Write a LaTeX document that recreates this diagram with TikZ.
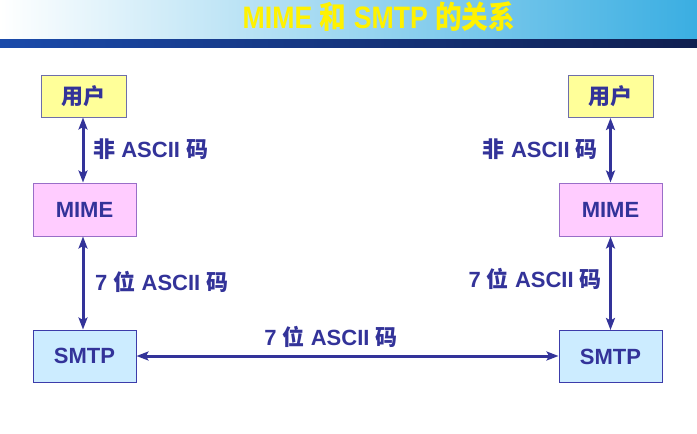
\documentclass[tikz,border=0pt]{standalone}
\usepackage{fontspec}
\setmainfont{Liberation Sans}
\newfontfamily\cjk{Noto Sans CJK SC}
\usetikzlibrary{arrows.meta}
\definecolor{ink}{RGB}{51,51,153}
\definecolor{hdr}{RGB}{58,174,226}
\definecolor{barL}{RGB}{26,74,170}
\definecolor{barR}{RGB}{16,31,80}
\definecolor{userfill}{RGB}{255,255,153}
\definecolor{mimefill}{RGB}{255,204,255}
\definecolor{smtpfill}{RGB}{204,236,255}
\definecolor{userline}{RGB}{110,110,170}
\definecolor{mimeline}{RGB}{153,110,200}
\definecolor{smtpline}{RGB}{60,60,170}
\newcommand\zh[1]{{\cjk\bfseries #1}}
\tikzset{
  box/.style={draw, line width=1pt, minimum width=#1, inner sep=0pt, font=\fontsize{22}{25}\selectfont\bfseries, text=ink},
  userbox/.style={box=85pt, minimum height=42pt, fill=userfill, draw=userline},
  mimebox/.style={box=103pt, minimum height=53pt, fill=mimefill, draw=mimeline},
  smtpbox/.style={box=103pt, minimum height=52pt, fill=smtpfill, draw=smtpline},
  lbl/.style={inner sep=0pt, text=ink, font=\fontsize{22}{25}\selectfont\bfseries},
  conn/.style={draw=ink, line width=3pt, {Stealth[length=12pt,width=9pt,inset=2.5pt]}-{Stealth[length=12pt,width=9pt,inset=2.5pt]}}
}
\begin{document}
\begin{tikzpicture}[x=1pt,y=-1pt]
\useasboundingbox (0,0) rectangle (697,434);
\shade[left color=white, right color=hdr] (0,0) rectangle (697,39);
\shade[left color=barL, right color=barR] (0,39) rectangle (697,47);
\node[inner sep=0pt, anchor=base, text=yellow, font=\fontsize{31}{34}\selectfont\bfseries, xscale=0.86] (title) at (379,28) {MIME \zh{和} SMTP \zh{的关系}};

\node[userbox] (u1) at (83.5,96) {\zh{用户}};
\node[mimebox] (m1) at (84.5,209.5) {MIME};
\node[smtpbox] (s1) at (84.5,356) {SMTP};
\node[userbox] (u2) at (610.5,96.5) {\zh{用户}};
\node[mimebox] (m2) at (610.5,209.5) {MIME};
\node[smtpbox] (s2) at (610.5,356.5) {SMTP};

\draw[conn] ([xshift=-0.5pt]u1.south) -- ([xshift=-0.5pt]u1.south |- m1.north);
\draw[conn] ([xshift=-1.5pt]m1.south) -- ([xshift=-1.5pt]m1.south |- s1.north);
\draw[conn] (u2.south) -- (m2.north);
\draw[conn] (m2.south) -- (s2.north);
\draw[conn] (s1.east) -- (s1.east -| s2.west);

\node[lbl, anchor=base west] (l1) at (93,157) {\zh{非} ASCII \zh{码}};
\node[lbl, anchor=base east] (l2) at (598,157) {\zh{非} ASCII \zh{码}};
\node[lbl, anchor=base west] (l3) at (95,290) {7 \zh{位} ASCII \zh{码}};
\node[lbl, anchor=base east] (l4) at (602,287) {7 \zh{位} ASCII \zh{码}};
\node[lbl, anchor=base] (l5) at (331,345) {7 \zh{位} ASCII \zh{码}};
\end{tikzpicture}
\end{document}
